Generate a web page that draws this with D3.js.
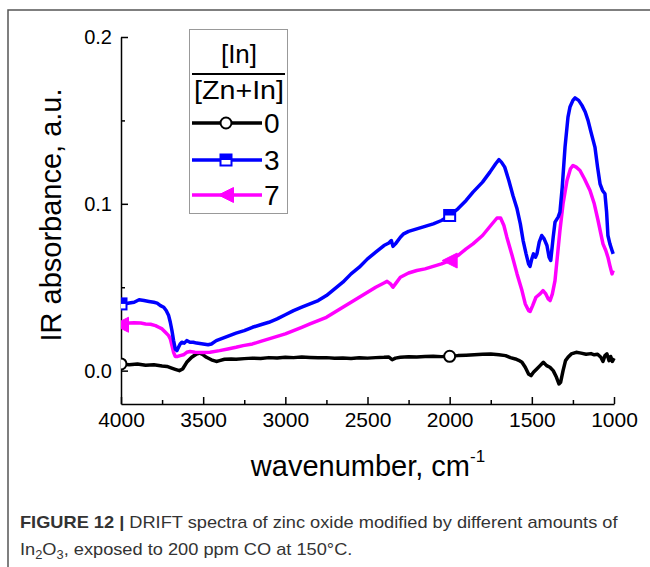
<!DOCTYPE html>
<html><head><meta charset="utf-8">
<script src="https://cdn.jsdelivr.net/npm/d3@7"></script>
<style>body{margin:0;background:#fff;} svg{display:block;} text{font-family:"Liberation Sans",Arial,sans-serif;}</style>
</head><body>
<svg id="c" width="650" height="567"></svg>
<script>
// ---- data ----
const seriesNames = ["0", "3", "7"];
const seriesColors = ["#000000", "#0000ff", "#ff00ff"];
const xTicks = [4000, 3500, 3000, 2500, 2000, 1500, 1000];
const xMinorTicks = [3750, 3250, 2750, 2250, 1750, 1250];
const yTicks = [0.0, 0.1, 0.2];
const yMinorTicks = [0.05, 0.15];
const markerWn = [4000, 2000];

const wn0 = [4000,3950,3900,3850,3800,3750,3720,3700,3670,3645,3625,3600,3570,3540,3520,3500,3480,3450,3420,3400,3370,3330,3300,3250,3200,3150,3100,3050,3000,2950,2900,2850,2800,2750,2700,2650,2600,2550,2500,2450,2400,2370,2350,2330,2300,2250,2200,2150,2100,2050,2000,1950,1900,1850,1800,1750,1700,1660,1630,1600,1580,1560,1540,1520,1505,1490,1470,1450,1430,1410,1390,1370,1350,1335,1325,1310,1295,1280,1260,1230,1200,1170,1140,1120,1100,1080,1067,1055,1043,1030,1020,1010,1000];
const abs0 = [.004,.0035,.004,.0032,.0035,.0028,.0025,.0018,.0008,.000,.001,.005,.008,.010,.0105,.0095,.008,.0065,.0055,.006,.0068,.007,.0068,.0072,.0075,.0073,.0078,.0076,.008,.0078,.0082,.0079,.0077,.0078,.0074,.0076,.0073,.0077,.0075,.0078,.008,.0082,.0065,.0075,.008,.0083,.0082,.0085,.0086,.0084,.0086,.009,.0092,.0095,.0098,.010,.0095,.009,.0078,.007,.0062,.005,.002,-.002,-.003,-.001,.001,.003,.005,.003,.002,.000,-.004,-.008,-.007,.000,.006,.008,.010,.011,.0105,.0098,.0102,.0095,.0098,.008,.0055,.009,.010,.006,.0085,.0055,.0075];
const marker0 = [.004, .0086];

const wn3 = [4000,3980,3950,3920,3890,3860,3830,3800,3780,3760,3740,3725,3710,3700,3690,3680,3670,3660,3650,3640,3630,3615,3600,3580,3560,3540,3500,3470,3450,3420,3380,3340,3300,3250,3200,3150,3100,3050,3000,2950,2900,2850,2800,2750,2700,2650,2600,2550,2500,2450,2400,2370,2355,2345,2330,2300,2280,2250,2200,2150,2100,2050,2000,1950,1900,1858,1800,1755,1720,1700,1685,1665,1640,1615,1590,1570,1553,1535,1520,1511,1500,1490,1478,1469,1455,1440,1425,1408,1395,1385,1370,1359,1340,1329,1315,1298,1280,1268,1250,1237,1215,1195,1175,1158,1140,1116,1100,1085,1070,1055,1045,1037,1025,1012,1005];
const abs3 = [.039,.040,.0405,.041,.0425,.042,.0415,.041,.0405,.039,.038,.036,.033,.029,.024,.018,.013,.012,.014,.016,.017,.0165,.018,.017,.017,.0165,.016,.0155,.016,.018,.0195,.021,.0225,.024,.026,.0275,.029,.031,.0335,.036,.038,.040,.042,.045,.049,.053,.058,.062,.067,.071,.075,.0765,.078,.0745,.076,.080,.082,.0835,.085,.0865,.088,.090,.093,.097,.102,.107,.113,.119,.124,.1265,.125,.122,.114,.105,.097,.088,.078,.070,.064,.0625,.067,.070,.068,.070,.077,.081,.079,.075,.068,.066,.080,.089,.092,.095,.110,.134,.152,.158,.162,.1635,.162,.159,.155,.150,.143,.134,.122,.112,.108,.106,.095,.081,.076,.072,.070];
const marker3 = [.040, .093];

const wn7 = [4000,3980,3950,3920,3880,3850,3820,3790,3770,3750,3730,3710,3700,3690,3680,3670,3655,3640,3620,3600,3580,3550,3500,3458,3400,3350,3300,3257,3200,3150,3100,3050,3000,2950,2900,2850,2800,2750,2700,2650,2600,2550,2500,2450,2400,2381,2360,2345,2330,2300,2250,2200,2150,2100,2050,2000,1950,1900,1858,1800,1750,1712,1690,1670,1652,1620,1590,1560,1540,1520,1510,1495,1475,1450,1432,1415,1400,1389,1375,1359,1345,1329,1310,1286,1265,1249,1230,1207,1180,1146,1120,1097,1080,1067,1050,1037,1025,1012,1005];
const abs7 = [.0275,.028,.0285,.0287,.0285,.028,.0278,.027,.026,.025,.023,.021,.019,.015,.011,.0085,.0085,.009,.0095,.011,.0115,.011,.0108,.011,.012,.013,.014,.015,.016,.0175,.019,.0205,.022,.024,.026,.028,.030,.032,.035,.038,.041,.044,.047,.050,.0525,.0535,.052,.050,.052,.056,.0585,.060,.061,.0625,.064,.066,.069,.073,.076,.081,.087,.0915,.0915,.087,.080,.069,.058,.048,.040,.036,.0355,.039,.044,.046,.048,.046,.043,.042,.046,.054,.068,.084,.100,.114,.121,.123,.122,.120,.115,.108,.100,.090,.082,.076,.072,.068,.063,.058,.060];
const marker7 = [.0275, .066];

const seriesWn = [wn0, wn3, wn7];
const seriesAbs = [abs0, abs3, abs7];
const seriesMarkers = [marker0, marker3, marker7];

// ---- drawing ----
const svg = d3.select("#c");
const x = d3.scaleLinear().domain([4000, 1000]).range([121, 614]);
const y = d3.scaleLinear().domain([-0.02, 0.2]).range([404, 37]);

svg.append("clipPath").attr("id", "plotclip").append("rect")
  .attr("x", 121).attr("y", 20).attr("width", 510).attr("height", 384);

// outer frame
svg.append("path").attr("d", "M8,567 L8,10 L650,10").attr("fill", "none").attr("stroke", "#555").attr("stroke-width", 1.5);

// axes
svg.append("g").attr("transform", "translate(0,404)")
  .call(d3.axisBottom(x).tickValues(xTicks).tickFormat(d3.format("d")).tickSize(-7).tickSizeOuter(0).tickPadding(8))
  .selectAll(".tick text").attr("font-size", 21);
svg.append("g").attr("transform", "translate(0,404)")
  .call(d3.axisBottom(x).tickValues(xMinorTicks).tickFormat("").tickSize(-4).tickSizeOuter(0))
  .select(".domain").remove();
svg.append("g").attr("transform", "translate(121,0)")
  .call(d3.axisLeft(y).tickValues(yTicks).tickFormat(d3.format(".1f")).tickSize(-7).tickSizeOuter(0).tickPadding(9))
  .selectAll(".tick text").attr("font-size", 20);
svg.append("g").attr("transform", "translate(121,0)")
  .call(d3.axisLeft(y).tickValues(yMinorTicks).tickFormat("").tickSize(-4).tickSizeOuter(0))
  .select(".domain").remove();
svg.selectAll(".domain, .tick line").attr("stroke", "#000").attr("stroke-width", 1.5);
svg.selectAll(".tick text").attr("font-family", "Liberation Sans, Arial, sans-serif").attr("fill", "#000");

// axis titles
svg.append("text").attr("transform", "translate(61,215) rotate(-90)").attr("text-anchor", "middle")
  .attr("font-size", 29).text("IR absorbance, a.u.");
const xt = svg.append("text").attr("x", 368).attr("y", 476).attr("text-anchor", "middle").attr("font-size", 29);
xt.append("tspan").text("wavenumber, cm");
xt.append("tspan").attr("font-size", 17).attr("dy", -14).text("-1");

// lines
const plot = svg.append("g").attr("clip-path", "url(#plotclip)");
const line = d3.line().x(d => x(d[0])).y(d => y(d[1]));
const drawOrder = [0, 2, 1];
drawOrder.forEach(i => {
  const pts = seriesWn[i].map((w, k) => [w, seriesAbs[i][k]]);
  plot.append("path").datum(pts).attr("d", line).attr("fill", "none")
    .attr("stroke", seriesColors[i]).attr("stroke-width", 3.5).attr("stroke-linejoin", "round");
});

// marker shapes
function drawMarker(g, i, cx, cy, s) {
  if (i === 0) {
    g.append("circle").attr("cx", cx).attr("cy", cy).attr("r", 5.5*s).attr("fill", "#fff").attr("stroke", "#000").attr("stroke-width", 2);
  } else if (i === 1) {
    const h = 5.5*s;
    g.append("rect").attr("x", cx-h).attr("y", cy-h).attr("width", 2*h).attr("height", 2*h).attr("fill", "#fff").attr("stroke", seriesColors[1]).attr("stroke-width", 2);
    g.append("rect").attr("x", cx-h).attr("y", cy-h).attr("width", 2*h).attr("height", h).attr("fill", seriesColors[1]);
  } else {
    const w = 7.5*s;
    g.append("path").attr("d", `M${cx-w},${cy} L${cx+w},${cy-w} L${cx+w},${cy+w} Z`).attr("fill", seriesColors[2]).attr("stroke", seriesColors[2]).attr("stroke-width", 1);
  }
}
[0, 2, 1].forEach(i => {
  markerWn.forEach((w, k) => drawMarker(plot, i, x(w), y(seriesMarkers[i][k]), 1));
});

// legend
const lg = svg.append("g");
lg.append("rect").attr("x", 189.5).attr("y", 29.5).attr("width", 98).attr("height", 184).attr("fill", "#fff").attr("stroke", "#999").attr("stroke-width", 1);
lg.append("text").attr("x", 239).attr("y", 63).attr("text-anchor", "middle").attr("font-size", 26).text("[In]");
lg.append("line").attr("x1", 192).attr("x2", 285).attr("y1", 74).attr("y2", 74).attr("stroke", "#000").attr("stroke-width", 2);
lg.append("text").attr("x", 239).attr("y", 99).attr("text-anchor", "middle").attr("font-size", 26)
  .attr("textLength", 90).attr("lengthAdjust", "spacingAndGlyphs").text("[Zn+In]");
const legY = [123, 160, 195];
seriesNames.forEach((n, i) => {
  lg.append("line").attr("x1", 192).attr("x2", 262).attr("y1", legY[i]).attr("y2", legY[i]).attr("stroke", seriesColors[i]).attr("stroke-width", 3.5);
  drawMarker(lg, i, 226, legY[i], 1);
  lg.append("text").attr("x", 264).attr("y", legY[i] + 10).attr("font-size", 28).text(n);
});

// caption
const capG = svg.append("g");
const cap1 = capG.append("text").attr("x", 20).attr("y", 528).attr("font-size", 17).attr("fill", "#333");
cap1.append("tspan").attr("font-weight", "bold").text("FIGURE 12 | ");
cap1.append("tspan").text("DRIFT spectra of zinc oxide modified by different amounts of");
const cap2 = capG.append("text").attr("x", 20).attr("y", 555).attr("font-size", 17).attr("fill", "#333");
cap2.append("tspan").text("In");
cap2.append("tspan").attr("font-size", 12).attr("dy", 4).text("2");
cap2.append("tspan").attr("dy", -4).text("O");
cap2.append("tspan").attr("font-size", 12).attr("dy", 4).text("3");
cap2.append("tspan").attr("dy", -4).text(", exposed to 200 ppm CO at 150°C.");
const w1 = cap1.node().getComputedTextLength();
const sx = 598 / w1;
capG.attr("transform", `translate(20,0) scale(${sx},1) translate(-20,0)`);
</script>
</body></html>
